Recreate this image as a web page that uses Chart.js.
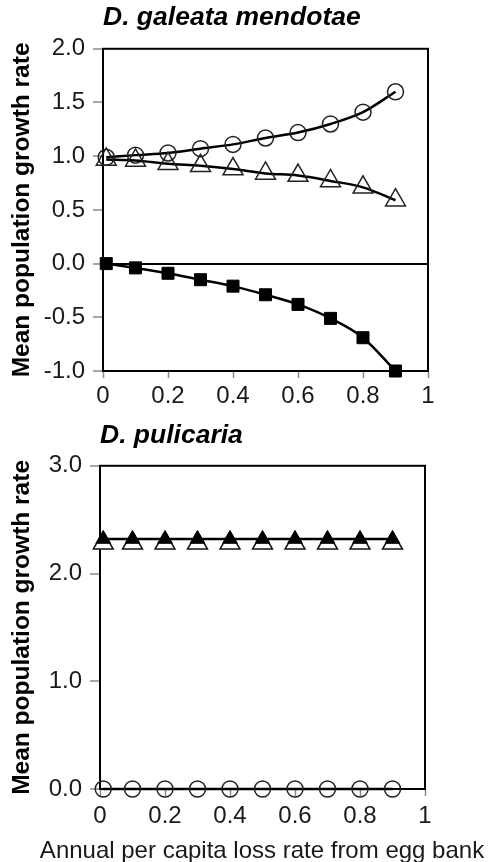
<!DOCTYPE html>
<html>
<head>
<meta charset="utf-8">
<script src="https://cdn.jsdelivr.net/npm/chart.js@4"></script>
<style>
  html, body { margin: 0; padding: 0; background: #fff; overflow: hidden; }
  body { width: 488px; height: 862px; position: relative; }
  canvas { position: absolute; left: 0; }
  #topChart { top: 0; }
  #bottomChart { top: 400px; }
</style>
</head>
<body>
<canvas id="topChart" width="488" height="430"></canvas>
<canvas id="bottomChart" width="488" height="462"></canvas>
<script>
// x values: annual per capita loss rate from egg bank
const lossRate = [0.01, 0.1, 0.2, 0.3, 0.4, 0.5, 0.6, 0.7, 0.8, 0.9];

// D. galeata mendotae
const galCircles = [0.99, 1.01, 1.03, 1.07, 1.11, 1.17, 1.22, 1.30, 1.41, 1.60];
const galTriangles = [0.97, 0.96, 0.93, 0.91, 0.88, 0.84, 0.82, 0.77, 0.71, 0.59];
const galSquares = [0.0, -0.04, -0.09, -0.15, -0.21, -0.29, -0.38, -0.51, -0.69, -1.0];

// D. pulicaria
const pulFilledTriangles = [2.32, 2.32, 2.32, 2.32, 2.32, 2.32, 2.32, 2.32, 2.32, 2.32];
const pulOpenTriangles = [2.28, 2.28, 2.28, 2.28, 2.28, 2.28, 2.28, 2.28, 2.28, 2.28];
const pulCircles = [0, 0, 0, 0, 0, 0, 0, 0, 0, 0];

// axis ticks
const xTicks = [0, 0.2, 0.4, 0.6, 0.8, 1];
const topYTicks = [-1.0, -0.5, 0.0, 0.5, 1.0, 1.5, 2.0];
const bottomYTicks = [0.0, 1.0, 2.0, 3.0];

const xAxisTitle = 'Annual per capita loss rate from egg bank';
const yAxisTitle = 'Mean population growth rate';

const FONT = "'Liberation Sans', Arial, Helvetica, sans-serif";
Chart.defaults.font.family = FONT;
Chart.defaults.color = '#1a1a1a';

const toPoints = (ys) => ys.map((y, i) => ({ x: lossRate[i], y: y }));

// black box around the plot area
const framePlugin = {
  id: 'frame',
  beforeDatasetsDraw(chart) {
    const { ctx, chartArea: a } = chart;
    ctx.save();
    ctx.strokeStyle = '#000';
    ctx.lineWidth = 2;
    ctx.strokeRect(a.left, a.top, a.right - a.left, a.bottom - a.top);
    ctx.restore();
  }
};

// x axis caption under the lower panel (the scale title would squeeze it to the plot width)
const captionPlugin = {
  id: 'caption',
  afterDraw(chart) {
    const { ctx, chartArea: a } = chart;
    ctx.save();
    ctx.font = '24px ' + FONT;
    ctx.fillStyle = '#1a1a1a';
    ctx.textAlign = 'center';
    ctx.textBaseline = 'middle';
    ctx.fillText(xAxisTitle, a.left + 162, chart.height - 11);
    ctx.restore();
  }
};

function series(data, opts) {
  return Object.assign({
    data: data,
    borderColor: '#000',
    borderWidth: 2.5,
    cubicInterpolationMode: 'monotone',
    pointBorderColor: '#222',
    pointBorderWidth: 1.5,
    pointBackgroundColor: 'rgba(0,0,0,0)',
    clip: false
  }, opts);
}

function makeOptions(cfg) {
  return {
    responsive: false,
    animation: false,
    layout: { padding: { left: 0, right: cfg.right, top: 0, bottom: 0 } },
    plugins: {
      legend: { display: false },
      tooltip: { enabled: false },
      title: {
        display: true,
        text: cfg.title,
        align: 'start',
        fullSize: false,
        color: '#000',
        font: { size: 26.5, weight: 'bold', style: 'italic', lineHeight: 1.2 },
        padding: cfg.titlePad
      }
    },
    scales: {
      x: {
        type: 'linear',
        min: 0,
        max: 1,
        afterFit: (s) => { s.height = cfg.xHeight; },
        afterBuildTicks: (s) => { s.ticks = xTicks.map(v => ({ value: v })); },
        ticks: {
          font: { size: 24 },
          padding: cfg.xPad,
          maxRotation: 0,
          autoSkip: false,
          callback: (v) => String(+v.toFixed(1))
        },
        grid: { drawOnChartArea: false, tickColor: '#888', tickWidth: 1.5, tickLength: 7 },
        border: { color: '#000', width: 2 }
      },
      y: {
        type: 'linear',
        min: cfg.yMin,
        max: cfg.yMax,
        afterFit: (s) => { s.width = cfg.yWidth; },
        afterBuildTicks: (s) => { s.ticks = cfg.yTicks.map(v => ({ value: v })); },
        ticks: {
          font: { size: 24 },
          padding: 8,
          autoSkip: false,
          callback: (v) => v.toFixed(1)
        },
        grid: {
          drawOnChartArea: cfg.zeroLine,
          color: (c) => (c.tick && c.tick.value === 0) ? '#000' : 'rgba(0,0,0,0)',
          lineWidth: 2,
          tickColor: '#888',
          tickWidth: 1.5,
          tickLength: 10
        },
        border: { color: '#000', width: 2 },
        title: {
          display: true,
          text: yAxisTitle,
          color: '#000',
          font: { size: 24.5, weight: 'bold', lineHeight: 1.2 },
          padding: { top: 8, bottom: 0 }
        }
      }
    }
  };
}

new Chart(document.getElementById('topChart'), {
  type: 'line',
  data: {
    datasets: [
      series(toPoints(galSquares), { pointStyle: 'rect', pointRadius: 8.5, pointBackgroundColor: '#000', pointBorderColor: '#000', pointBorderWidth: 1 }),
      series(toPoints(galTriangles), { pointStyle: 'triangle', pointRadius: 11.5 }),
      series(toPoints(galCircles), { pointStyle: 'circle', pointRadius: 8 })
    ]
  },
  options: makeOptions({
    title: 'D. galeata mendotae',
    titlePad: { top: 2, bottom: 15 },
    right: 60,
    xHeight: 59,
    xPad: 4,
    yWidth: 103,
    yMin: -1,
    yMax: 2,
    yTicks: topYTicks,
    zeroLine: true
  }),
  plugins: [framePlugin]
});

new Chart(document.getElementById('bottomChart'), {
  type: 'line',
  data: {
    datasets: [
      series(toPoints(pulFilledTriangles), { pointStyle: 'triangle', pointRadius: 8.5, pointBackgroundColor: '#000', pointBorderColor: '#000', pointBorderWidth: 1 }),
      series(toPoints(pulOpenTriangles), { pointStyle: 'triangle', pointRadius: 11.5, showLine: false, pointBackgroundColor: '#fff', pointBorderColor: '#111' }),
      series(toPoints(pulCircles), { pointStyle: 'circle', pointRadius: 8 })
    ]
  },
  options: makeOptions({
    title: 'D. pulicaria',
    titlePad: { top: 20, bottom: 14 },
    right: 63,
    xHeight: 73,
    xPad: 6,
    yWidth: 100,
    yMin: 0,
    yMax: 3,
    yTicks: bottomYTicks,
    zeroLine: false
  }),
  plugins: [framePlugin, captionPlugin]
});
</script>
</body>
</html>
